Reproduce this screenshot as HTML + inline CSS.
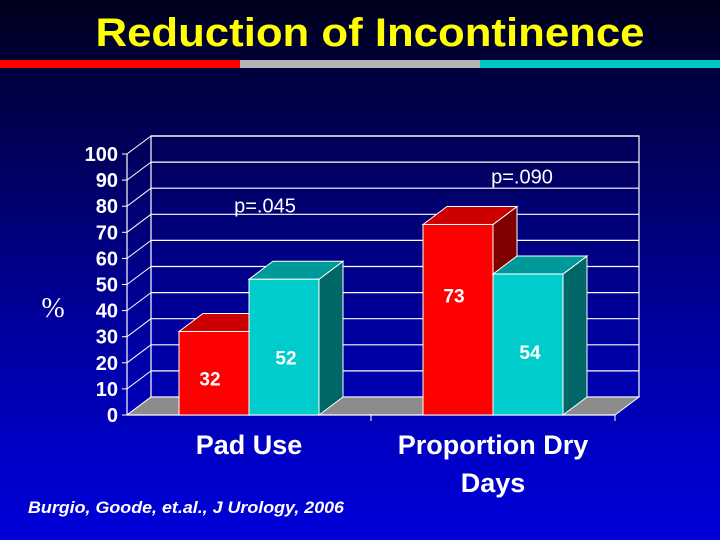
<!DOCTYPE html>
<html><head><meta charset="utf-8"><style>
html,body{margin:0;padding:0}
body{width:720px;height:540px;overflow:hidden;background:linear-gradient(#00001a 0%,#000040 15%,#00008a 50%,#0000c8 85%,#0000d8 100%);font-family:"Liberation Sans",sans-serif}
</style></head><body>
<svg id="chart" width="720" height="540" xmlns="http://www.w3.org/2000/svg" style="position:absolute;left:0;top:0">
<text x="370" y="46" text-anchor="middle" fill="#ffff00" font-weight="bold" font-size="40" textLength="549" lengthAdjust="spacingAndGlyphs">Reduction of Incontinence</text>
<rect x="0" y="60" width="240" height="8" fill="#ff0000"/>
<rect x="240" y="60" width="240" height="8" fill="#b4b4b4"/>
<rect x="480" y="60" width="240" height="8" fill="#00c8c8"/>
<g id="plot"></g>
<text x="53" y="317" text-anchor="middle" fill="#fff" font-size="28" font-family="Liberation Serif,serif">%</text>
<text x="28" y="513" fill="#fff" font-size="17" font-weight="bold" font-style="italic" textLength="316" lengthAdjust="spacingAndGlyphs">Burgio, Goode, et.al., J Urology, 2006</text>
</svg>
<script>
const categories=["Pad Use","Proportion Dry Days"];
const seriesA=[32,73];
const seriesB=[52,54];
const pLabels=["p=.045","p=.090"];
const ticks=[0,10,20,30,40,50,60,70,80,90,100];
const NS="http://www.w3.org/2000/svg";
const g=document.getElementById('plot');
const X0=127,X1=615,Y0=415,Y100=154,DX=24,DY=-18;
const y=v=>Y0-(v/100)*(Y0-Y100);
const catW=(X1-X0)/categories.length;
const cx=i=>X0+catW*(i+0.5);
function el(t,a,p){const e=document.createElementNS(NS,t);for(const k in a)e.setAttribute(k,a[k]);(p||g).appendChild(e);return e;}
ticks.forEach(t=>{
  const l=el('line',{x1:X0+DX,y1:y(t)+DY,x2:X1+DX,y2:y(t)+DY,stroke:'#fff','stroke-width':1.2});
  
  
  const d=el('line',{x1:X0,y1:y(t),x2:X0+DX,y2:y(t)+DY,stroke:'#fff','stroke-width':1});
  
  
  const tk=el('line',{x1:X0-5,y1:y(t),x2:X0,y2:y(t),stroke:'#fff'});
  
  
  const tx=el('text',{x:118,y:y(t)+7,'text-anchor':'end',fill:'#fff','font-size':20,'font-weight':'bold'});
  tx.textContent=t;
  
  
});
const wall=el('polyline',{points:`${X0+DX},${y(0)+DY} ${X0+DX},${y(100)+DY} ${X1+DX},${y(100)+DY} ${X1+DX},${y(0)+DY}`,fill:'none',stroke:'#fff','stroke-width':1.2});


const axL=el('line',{x1:X0,y1:y(0),x2:X0,y2:y(100),stroke:'#fff','stroke-width':1.2});


const floor=el('polygon',{points:`${X0},${Y0} ${X1},${Y0} ${X1+DX},${Y0+DY} ${X0+DX},${Y0+DY}`,fill:'#8c8c8c',stroke:'#fff','stroke-width':1});


const axB=el('line',{x1:X0,y1:Y0,x2:X1,y2:Y0,stroke:'#fff','stroke-width':1.2});


[X0+catW,X1].forEach(xx=>{const t=el('line',{x1:xx,y1:Y0,x2:xx,y2:Y0+6,stroke:'#fff'});

});
const BW=70;
function bar(x,v,front,top,side,name,labelDx,labelY){
  const yt=y(v);
  const grp=el('g',{});
  
  
  el('polygon',{points:`${x+BW},${Y0} ${x+BW+DX},${Y0+DY} ${x+BW+DX},${yt+DY} ${x+BW},${yt}`,fill:side,stroke:'#fff','stroke-width':1},grp);
  el('polygon',{points:`${x},${yt} ${x+DX},${yt+DY} ${x+BW+DX},${yt+DY} ${x+BW},${yt}`,fill:top,stroke:'#fff','stroke-width':1},grp);
  el('rect',{x:x,y:yt,width:BW,height:Y0-yt,fill:front,stroke:'#fff','stroke-width':1},grp);
  const t=el('text',{x:x+BW/2+labelDx,y:labelY,'text-anchor':'middle',fill:'#fff','font-size':19,'font-weight':'bold'},grp);
  t.textContent=v;
  
  
}
categories.forEach((c,i)=>{
  const c0=cx(i);
  bar(c0-BW,seriesA[i],'#ff0000','#cc0000','#800000','bar-a-'+i,-4,y(seriesA[i])+(i==0?54:78));
  bar(c0,seriesB[i],'#00cccc','#009999','#006666','bar-b-'+i,2,y(seriesB[i])+85);
  const p=el('text',{x:c0+(i==0?16:29),y:y(Math.max(seriesA[i],seriesB[i]))-(i==0?67:41),'text-anchor':'middle',fill:'#fff','font-size':20});
  p.textContent=pLabels[i];
  
  
  const words=c.split(' ');
  const lines=c.length>10?[words.slice(0,2).join(' '),words.slice(2).join(' ')]:[c];
  lines.forEach((ln,j)=>{
    const t=el('text',{x:c0,y:454+j*38,'text-anchor':'middle',fill:'#fff','font-size':27,'font-weight':'bold'});
    t.textContent=ln;
    
    
  });
});
</script>
</body></html>
